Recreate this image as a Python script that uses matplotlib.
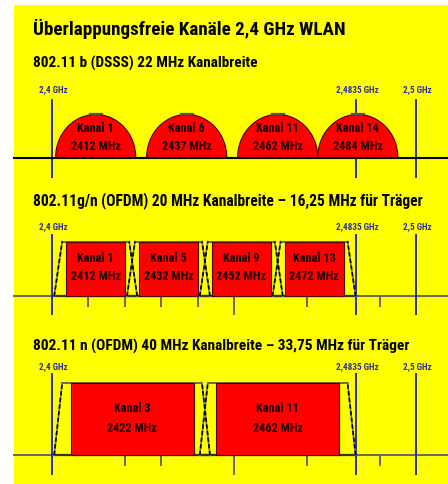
import matplotlib
matplotlib.use("Agg")
import matplotlib.pyplot as plt
from matplotlib.patches import Polygon, Rectangle
from matplotlib import font_manager as fm
import numpy as np

# ---------------- data ----------------
title = "Überlappungsfreie Kanäle 2,4 GHz WLAN"
sub_b = "802.11 b (DSSS) 22 MHz Kanalbreite"
sub_g = "802.11g/n (OFDM) 20 MHz Kanalbreite – 16,25 MHz für Träger"
sub_n = "802.11 n (OFDM) 40 MHz Kanalbreite – 33,75 MHz für Träger"

b_names = ["Kanal 1", "Kanal 6", "Kanal 11", "Kanal 14"]
b_centers = [2412, 2437, 2462, 2484]
b_width = 22

g_names = ["Kanal 1", "Kanal 5", "Kanal 9", "Kanal 13"]
g_centers = [2412, 2432, 2452, 2472]
g_width = 20
g_carrier = 16.25

n_names = ["Kanal 3", "Kanal 11"]
n_centers = [2422, 2462]
n_width = 40
n_carrier = 33.75

band_marks = [2400, 2483.5, 2500]
band_labels = ["2,4 GHz", "2,4835 GHz", "2,5 GHz"]
g_ticks = [2410, 2420, 2430, 2440, 2450, 2470, 2490]
n_ticks = [2420, 2430, 2450, 2470, 2490]
long_tick = 2450

# ---------------- fonts ----------------
names = {f.name for f in fm.fontManager.ttflist}
FAM = None
for cand in ["Liberation Sans Narrow", "Roboto Condensed", "Open Sans Condensed"]:
    if cand in names:
        FAM = cand
        break
STRETCH = "normal"
if FAM is None:
    FAM = "DejaVu Sans"
    STRETCH = "condensed"
FONT = [FAM, "DejaVu Sans"]

# ---------------- figure ----------------
W, H = 448, 484
fig = plt.figure(figsize=(W / 100, H / 100), dpi=100, facecolor="white")
bg = fig.add_axes([14 / W, 0, (W - 14) / W, (H - 5) / H])
bg.set_facecolor("#ffff00")
bg.set_xticks([])
bg.set_yticks([])
for s in bg.spines.values():
    s.set_visible(False)

ax = fig.add_axes([0, 0, 1, 1])
ax.set_zorder(2)
ax.set_facecolor("none")
PX = 3.64  # px per MHz
f0 = 2400 - 52 / PX
ax.set_xlim(f0, f0 + W / PX)
ax.set_ylim(H, 0)
ax.axis("off")

x_left = f0 + 14 / PX
x_right = f0 + W / PX

BLUE = "#2e2e9a"
RED = "#ff0000"
EDGE = "#4a0000"
TXT = "#1a0000"


def txt(x, y, s, size, color="black", ha="left", weight="bold"):
    ax.text(x, y, s, fontsize=size, color=color, ha=ha, va="center",
            family=FONT, fontstretch=STRETCH, fontweight=weight, zorder=8)


txt(f0 + 33 / PX, 29, title, 13.7)
txt(f0 + 33 / PX, 63, sub_b, 11.0)
txt(f0 + 33 / PX, 201, sub_g, 11.2)
txt(f0 + 33 / PX, 346, sub_n, 11.1)

# band markers for each section
for (ylab, y0, y1) in [(90, 99, 178), (227, 234, 315), (367, 373, 475)]:
    for m, lab in zip(band_marks, band_labels):
        ax.plot([m, m], [y0, y1], color=BLUE, lw=1.4, zorder=2.5,
                solid_capstyle="butt")
        txt(m + 0.4, ylab, lab, 6.6, color=BLUE, ha="center")

# ---- section 1: DSSS humps ----
base1 = 157.5
ax.plot([x_left, x_right], [base1, base1], color="black", lw=1.5, zorder=4)
t = np.linspace(0, np.pi, 120)
for name, c in zip(b_names, b_centers):
    hw = b_width / 2
    xs = c + hw * np.cos(t)
    ys = base1 - 43 * np.sin(t)
    ax.add_patch(Polygon(np.column_stack([xs, ys]), closed=True,
                         facecolor=RED, edgecolor=EDGE, lw=0.8, zorder=3))
    ax.plot([c - 1.6, c + 1.6], [base1 - 43.2, base1 - 43.2], color="#555555",
            lw=1.6, zorder=3.5)
    txt(c, 129, name, 8.8, color=TXT, ha="center")
    txt(c, 146, f"{c} MHz", 8.8, color=TXT, ha="center")


def ofdm_section(centers, names_, width, carrier, base, top, ticks,
                 long_end, ty1, ty2):
    ax.plot([x_left, x_right], [base, base], color="#666666", lw=1.4, zorder=2)
    for tk in ticks:
        yend = long_end if tk == long_tick else base + 11
        ax.plot([tk, tk], [base, yend], color="#666666", lw=1.4, zorder=2,
                solid_capstyle="butt")
    for name, c in zip(names_, centers):
        hb = width / 2 + 1.4
        ht = width / 2 - 0.8
        # trapezoid
        ax.plot([c - ht, c + ht], [top, top], color="#555555", lw=1.2, zorder=3)
        ax.plot([c - hb, c + hb], [base, base], color="#333333", lw=1.6, zorder=3)
        for sx in (-1, 1):
            ax.plot([c + sx * hb, c + sx * ht], [base, top], color="#777777",
                    lw=1.2, zorder=3.2)
            ax.plot([c + sx * hb, c + sx * ht], [base, top], color="black",
                    lw=1.2, ls=(0, (2.5, 1.5)), zorder=3.3)
        ax.add_patch(Rectangle((c - carrier / 2, top), carrier, base - top,
                               facecolor=RED, edgecolor=EDGE, lw=0.8,
                               zorder=3.1))
        txt(c, ty1, name, 8.8, color=TXT, ha="center")
        txt(c, ty2, f"{c} MHz", 8.8, color=TXT, ha="center")


ofdm_section(g_centers, g_names, g_width, g_carrier, 296, 241.5, g_ticks,
             315, 259, 276)
ofdm_section(n_centers, n_names, n_width, n_carrier, 455, 383, n_ticks,
             475, 409, 428)

fig.savefig("out.png", dpi=100, facecolor="white")
